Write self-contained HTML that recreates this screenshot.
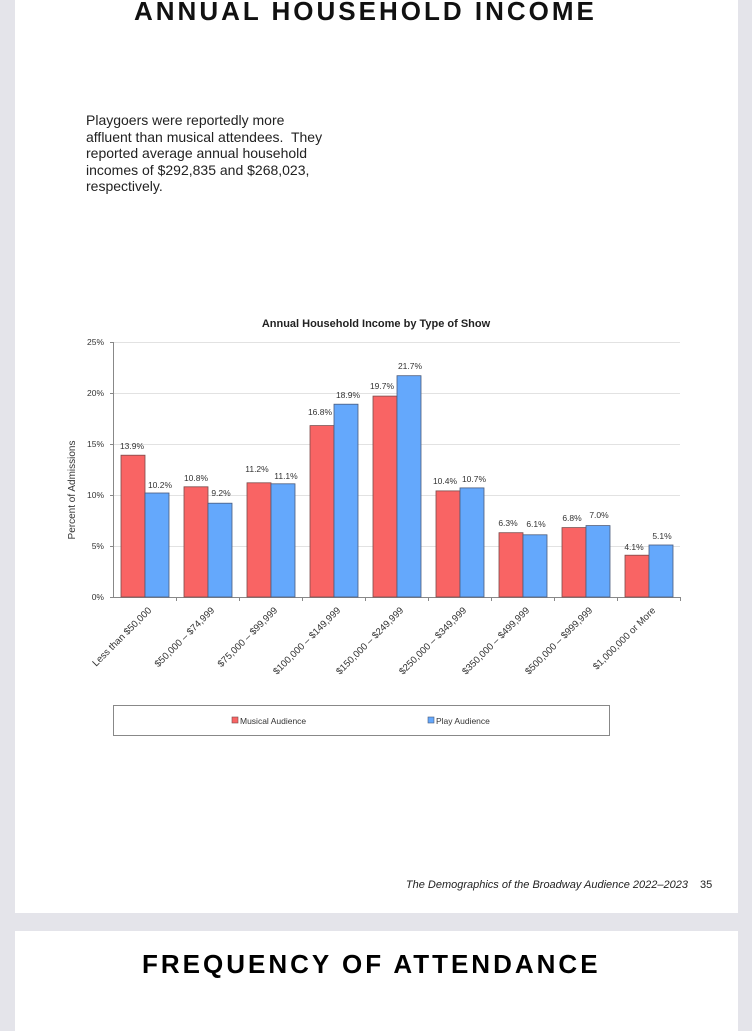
<!DOCTYPE html>
<html><head><meta charset="utf-8"><style>
body{margin:0;width:752px;height:1024px;background:#e4e4ea;position:relative;overflow:hidden;font-family:"Liberation Sans",sans-serif}
.pg{position:absolute;left:15px;width:723px;background:#fff}
h1{position:absolute;margin:0;font-family:"Liberation Sans",sans-serif;font-weight:bold;letter-spacing:3px;white-space:nowrap;color:#111;line-height:1}
</style></head><body>
<div class="pg" style="top:-5px;height:918px"></div>
<div class="pg" style="top:931px;height:100px"></div>
<h1 style="left:134px;top:-2px;font-size:26px">ANNUAL HOUSEHOLD INCOME</h1>
<div style="position:absolute;left:86px;top:112px;font-size:14px;line-height:16.5px;color:#222;white-space:nowrap">Playgoers were reportedly more<br>affluent than musical attendees.&nbsp; They<br>reported average annual household<br>incomes of $292,835 and $268,023,<br>respectively.</div>
<svg style="position:absolute;left:0;top:0" width="752" height="1024" font-family="Liberation Sans, sans-serif">
<text x="376" y="327" font-size="11" font-weight="bold" text-anchor="middle" fill="#222">Annual Household Income by Type of Show</text>
<g stroke="#e2e2e2" stroke-width="1">
<line x1="113" x2="680" y1="342.5" y2="342.5"/><line x1="113" x2="680" y1="393.5" y2="393.5"/><line x1="113" x2="680" y1="444.5" y2="444.5"/><line x1="113" x2="680" y1="495.5" y2="495.5"/><line x1="113" x2="680" y1="546.5" y2="546.5"/>
</g>
<g stroke="#888" stroke-width="1">
<line x1="113.5" x2="113.5" y1="342" y2="597"/><line x1="113" x2="680" y1="597.5" y2="597.5"/>
<line x1="110" x2="113" y1="342.5" y2="342.5"/><line x1="110" x2="113" y1="393.5" y2="393.5"/><line x1="110" x2="113" y1="444.5" y2="444.5"/><line x1="110" x2="113" y1="495.5" y2="495.5"/><line x1="110" x2="113" y1="546.5" y2="546.5"/><line x1="110" x2="113" y1="597.5" y2="597.5"/>
<line x1="176.5" x2="176.5" y1="597" y2="601"/><line x1="239.5" x2="239.5" y1="597" y2="601"/><line x1="302.5" x2="302.5" y1="597" y2="601"/><line x1="365.5" x2="365.5" y1="597" y2="601"/><line x1="428.5" x2="428.5" y1="597" y2="601"/><line x1="491.5" x2="491.5" y1="597" y2="601"/><line x1="554.5" x2="554.5" y1="597" y2="601"/><line x1="617.5" x2="617.5" y1="597" y2="601"/><line x1="680.5" x2="680.5" y1="597" y2="601"/>
</g>
<g font-size="8.5" fill="#333" text-anchor="end">
<text x="104" y="345">25%</text><text x="104" y="396">20%</text><text x="104" y="447">15%</text><text x="104" y="498">10%</text><text x="104" y="549">5%</text><text x="104" y="600">0%</text>
</g>
<text transform="translate(75,490) rotate(-90)" font-size="10" fill="#333" text-anchor="middle">Percent of Admissions</text>
<g fill="#f96464" stroke="#7a4a4a" stroke-width="0.8">
<rect x="121" y="455.2" width="24" height="141.8"/><rect x="184" y="486.8" width="24" height="110.2"/><rect x="247" y="482.8" width="24" height="114.2"/><rect x="310" y="425.6" width="24" height="171.4"/><rect x="373" y="396.1" width="24" height="200.9"/><rect x="436" y="490.9" width="24" height="106.1"/><rect x="499" y="532.7" width="24" height="64.3"/><rect x="562" y="527.6" width="24" height="69.4"/><rect x="625" y="555.2" width="24" height="41.8"/>
</g>
<g fill="#64a8fc" stroke="#4a5a7a" stroke-width="0.8">
<rect x="145" y="493" width="24" height="104"/><rect x="208" y="503.2" width="24" height="93.8"/><rect x="271" y="483.8" width="24" height="113.2"/><rect x="334" y="404.2" width="24" height="192.8"/><rect x="397" y="375.7" width="24" height="221.3"/><rect x="460" y="487.9" width="24" height="109.1"/><rect x="523" y="534.8" width="24" height="62.2"/><rect x="586" y="525.6" width="24" height="71.4"/><rect x="649" y="545" width="24" height="52"/>
</g>
<g font-size="8.5" fill="#333" text-anchor="middle">
<text x="132" y="449">13.9%</text><text x="196" y="481">10.8%</text><text x="257" y="472">11.2%</text><text x="320" y="415">16.8%</text><text x="382" y="389">19.7%</text><text x="445" y="484">10.4%</text><text x="508" y="526">6.3%</text><text x="572" y="521">6.8%</text><text x="634" y="550">4.1%</text>
<text x="160" y="488">10.2%</text><text x="221" y="496">9.2%</text><text x="286" y="479">11.1%</text><text x="348" y="398">18.9%</text><text x="410" y="369">21.7%</text><text x="474" y="482">10.7%</text><text x="536" y="527">6.1%</text><text x="599" y="518">7.0%</text><text x="662" y="539">5.1%</text>
</g>
<g font-size="9.6" fill="#333" text-anchor="end">
<text transform="translate(152,611) rotate(-45)">Less than $50,000</text>
<text transform="translate(215,611) rotate(-45)">$50,000 – $74,999</text>
<text transform="translate(278,611) rotate(-45)">$75,000 – $99,999</text>
<text transform="translate(341,611) rotate(-45)">$100,000 – $149,999</text>
<text transform="translate(404,611) rotate(-45)">$150,000 – $249,999</text>
<text transform="translate(467,611) rotate(-45)">$250,000 – $349,999</text>
<text transform="translate(530,611) rotate(-45)">$350,000 – $499,999</text>
<text transform="translate(593,611) rotate(-45)">$500,000 – $999,999</text>
<text transform="translate(656,611) rotate(-45)">$1,000,000 or More</text>
</g>
<rect x="113.5" y="705.5" width="496" height="30" fill="none" stroke="#888"/>
<rect x="232" y="717" width="6" height="6" fill="#f96464" stroke="#7a4a4a" stroke-width="0.6"/>
<text x="240" y="724" font-size="8.5" fill="#333">Musical Audience</text>
<rect x="428" y="717" width="6" height="6" fill="#64a8fc" stroke="#4a5a7a" stroke-width="0.6"/>
<text x="436" y="724" font-size="8.5" fill="#333">Play Audience</text>
<text x="688" y="888" font-size="11" font-style="italic" fill="#222" text-anchor="end">The Demographics of the Broadway Audience 2022–2023</text>
<text x="700" y="888" font-size="11" fill="#222">35</text>
</svg>
<h1 style="left:142px;top:951px;font-size:26px;color:#000;letter-spacing:3px">FREQUENCY OF ATTENDANCE</h1>
</body></html>
